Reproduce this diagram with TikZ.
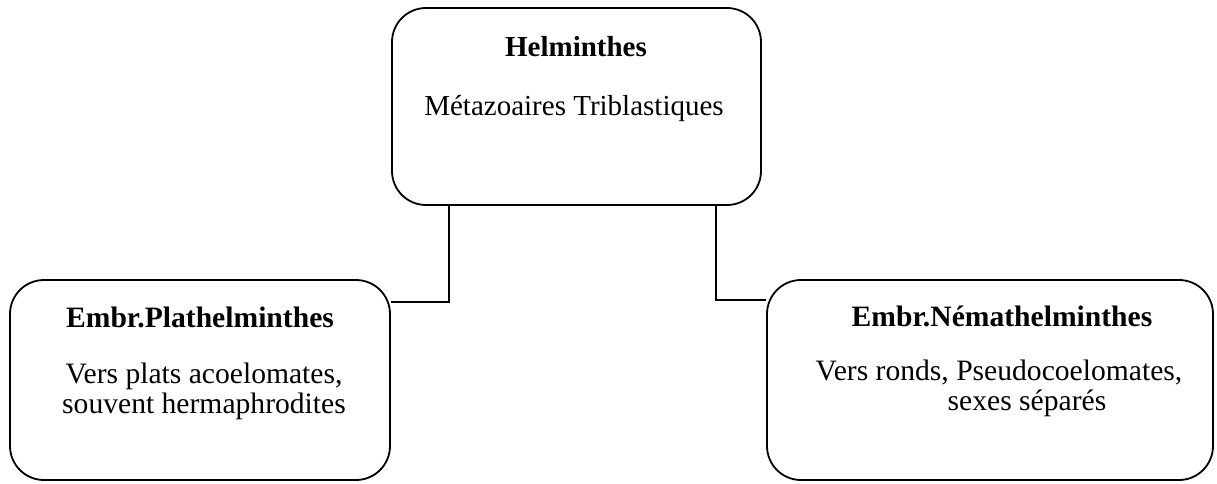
\documentclass[tikz,border=0pt]{standalone}
\usepackage{fontspec}
\setmainfont{Liberation Serif}
\usetikzlibrary{positioning}

\begin{document}
\begin{tikzpicture}[x=0.5pt,y=-0.5pt]
            \useasboundingbox (0,0) rectangle (1217,483);
            \tikzset{txt/.style={anchor=base,align=center,inner sep=0pt,
                                 font=\fontsize{14.8}{15}\selectfont}}
            \begin{scope}[every node/.style={draw,rounded corners=17pt,line width=0.9pt,inner sep=0pt}]
                \node[minimum width=184.5pt,minimum height=98.5pt] (helm) at (576.5,106.5) {};
                \node[minimum width=190pt,minimum height=100pt] (plat) at (200,380) {};
                \node[minimum width=223pt,minimum height=100pt] (nemat) at (990,380) {};
            \end{scope}

            % texts inside the boxes
            \node[txt,font=\fontsize{14.5}{15}\selectfont] (helmT) at (576,56) {\textbf{Helminthes}};
            \node[txt,font=\fontsize{14.5}{15}\selectfont] (helmB) at (574,115) {Métazoaires Triblastiques};
            \node[txt] (platT) at (200,327) {\textbf{Embr.Plathelminthes}};
            \node[txt] (platB) at (204,413) {Vers plats acoelomates,\\souvent hermaphrodites};
            \node[txt] (nematT) at (1002,326) {\textbf{Embr.Némathelminthes}};
            \node[txt] (nematB) at (999,410) {Vers ronds, Pseudocoelomates,\\\hspace*{28pt}sexes séparés};

            \coordinate (jl) at (449,302);
            \coordinate (jr) at (716,300);
            \begin{scope}[line width=0.9pt]
                \draw (helm.south -| jl) |- (plat.east |- jl);
                \draw (helm.south -| jr) |- (nemat.west |- jr);
            \end{scope}
        \end{tikzpicture}
\end{document}
